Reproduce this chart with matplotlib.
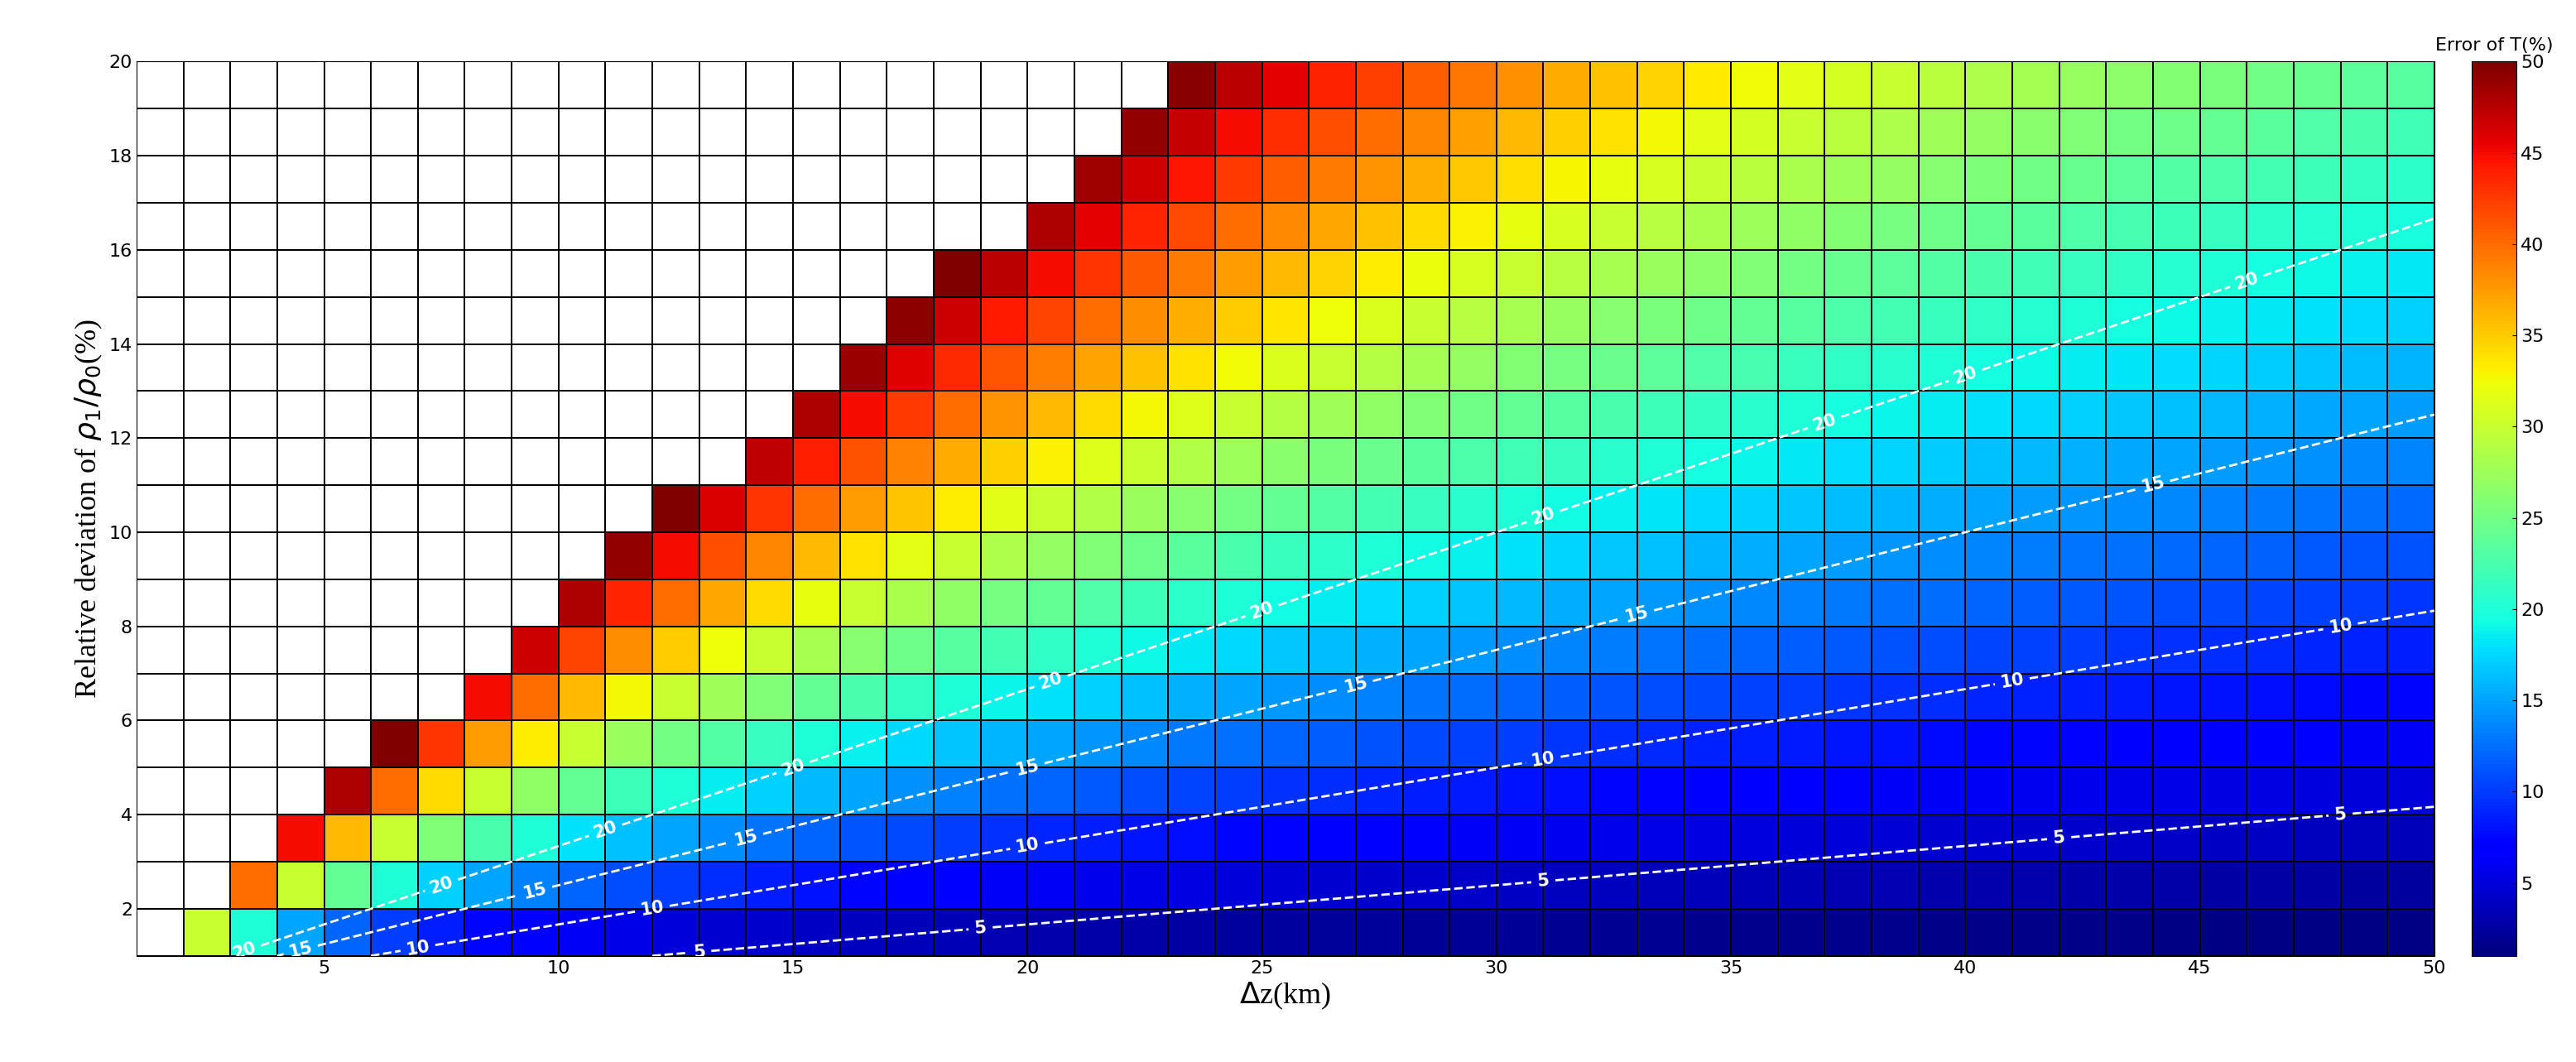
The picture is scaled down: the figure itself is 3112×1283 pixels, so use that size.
import numpy as np
import matplotlib
matplotlib.use("Agg")
import matplotlib.pyplot as plt

# grid nodes
dz_km = np.arange(1, 51)          # x nodes (km)
rel_dev = np.arange(1, 21)        # y nodes (%)
# field: error grows linearly with rel_dev/dz,
# contour 5 at ratio 1/12, 10 at 1/6, 15 at 1/4, 20 at 1/3 -> gain 60
error_gain = 60.0
max_shown = 50.0
contour_levels = [5, 10, 15, 20]
cbar_ticks = [5, 10, 15, 20, 25, 30, 35, 40, 45, 50]
# contour label x positions
label_x = {5: [13, 19, 31, 42, 48], 10: [7, 12, 20, 31, 41, 48],
           15: [4.5, 9.5, 14, 20, 27, 33, 44],
           20: [3.3, 7.5, 11, 15, 20.5, 25, 31, 37, 40, 46]}

X, Y = np.meshgrid(dz_km, rel_dev)
E = error_gain * Y / X
Em = np.ma.masked_where(E > max_shown, E)

fig = plt.figure(figsize=(31.12, 12.83), dpi=100)
ax = fig.add_axes([0.053, 0.1, 0.892, 0.842])
cax = fig.add_axes([0.9595, 0.1, 0.0175, 0.842])

C = Em[:-1, :-1]
cmap = plt.get_cmap('jet').copy()
cmap.set_bad('white')
pc = ax.pcolormesh(dz_km, rel_dev, C, cmap=cmap, vmin=1, vmax=50,
                   edgecolors='black', linewidth=1.2, shading='flat')
cs = ax.contour(X, Y, E, levels=contour_levels, colors='white',
                linestyles='--', linewidths=2)
manual = []
for lev, xs in label_x.items():
    for xv in xs:
        manual.append((xv, xv * lev / error_gain))
txts = ax.clabel(cs, fmt='%d', fontsize=15, colors='white', inline=True,
                 inline_spacing=8, manual=manual)
for t in txts:
    t.set_fontweight('bold')

ax.set_xlim(1, 50)
ax.set_ylim(1, 20)
ax.set_xticks(range(5, 51, 5))
ax.set_yticks(range(2, 21, 2))
ax.tick_params(direction='in', labelsize=16, length=6)
ax.set_xlabel(r'$\Delta$z(km)', fontsize=26, family='Liberation Serif')
ax.set_ylabel(r'Relative deviation of $\rho_1/\rho_0$(%)', fontsize=26,
              family='Liberation Serif')

cb = fig.colorbar(pc, cax=cax, ticks=cbar_ticks)
cb.ax.tick_params(labelsize=16, direction='in')
cax.set_title('Error of T(%)', fontsize=16, pad=10)

fig.savefig('out.png', dpi=100)
